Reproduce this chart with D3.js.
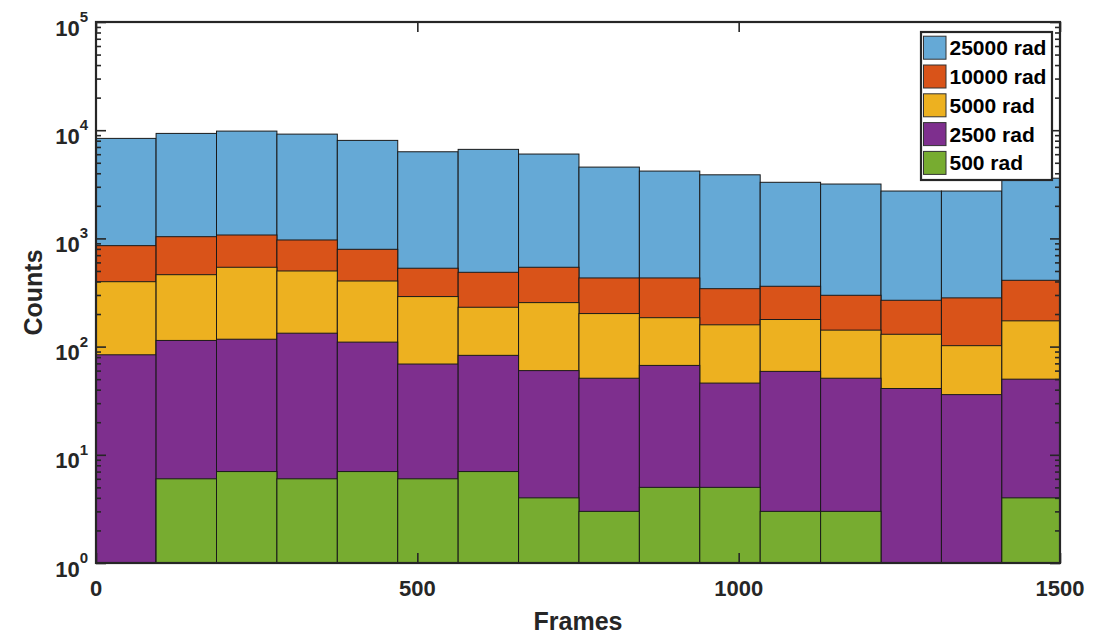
<!DOCTYPE html>
<html>
<head>
<meta charset="utf-8">
<script src="https://cdn.jsdelivr.net/npm/d3@7"></script>
<style>
  body { margin: 0; background: #fff; }
  text { font-family: "Liberation Sans", Arial, sans-serif; font-weight: bold; }
</style>
</head>
<body>
<svg id="chart" width="1107" height="634"></svg>
<script>
// bin edges (frames) of the 16 histogram bins
const binEdges = [-0.5, 93.5, 187.5, 281.5, 375.5, 469.5, 563.5, 657.5, 751.5,
                  845.5, 939.5, 1033.5, 1127.5, 1221.5, 1315.5, 1409.5, 1503.5];

// counts per bin
const counts25000 = [8400, 9340, 9810, 9200, 8050, 6320, 6650, 6020, 4560, 4190, 3870, 3300, 3180, 2740, 2740, 3600];
const counts10000 = [857, 1037, 1075, 967, 793, 530, 486, 541, 431, 431, 343, 361, 298, 268, 282, 410];
const counts5000  = [398, 462, 541, 500, 404, 290, 231, 255, 202, 185, 159, 178, 142, 130, 102, 173];
const counts2500  = [84, 114, 117, 133, 110, 69, 83, 60, 51, 67, 46, 59, 51, 41, 36, 50];
const counts500   = [0, 6, 7, 6, 7, 6, 7, 4, 3, 5, 5, 3, 3, 0, 0, 4];

const seriesNames = ["25000 rad", "10000 rad", "5000 rad", "2500 rad", "500 rad"];
const seriesCounts = [counts25000, counts10000, counts5000, counts2500, counts500];
const seriesColors = ["#65a9d6", "#d95319", "#edb120", "#7e2f8e", "#77ac30"];

const xTicks = [0, 500, 1000, 1500];
const yMajor = [1, 10, 100, 1000, 10000, 100000];
const yExponents = ["0", "1", "2", "3", "4", "5"];

const margin = { left: 96, top: 22, right: 47, bottom: 71 };
const width = 1107, height = 634;
const axisColor = "#262626";

const svg = d3.select("#chart");

const x = d3.scaleLinear().domain([0, 1500]).range([margin.left, width - margin.right]);
const y = d3.scaleLog().domain([1, 1e5]).range([height - margin.bottom, margin.top]);

// minor ticks for the log axis
const yMinor = [];
for (let d = 1; d < 1e5; d *= 10) {
  for (let k = 2; k <= 9; k++) yMinor.push(d * k);
}

svg.append("clipPath").attr("id", "plot-clip")
  .append("rect")
  .attr("x", x(0)).attr("y", y(1e5))
  .attr("width", x(1500) - x(0)).attr("height", y(1) - y(1e5));

const plot = svg.append("g").attr("clip-path", "url(#plot-clip)");

// overlaid histograms, largest first
seriesCounts.forEach((vals, s) => {
  plot.selectAll(null)
    .data(vals.map((v, i) => ({ v, x0: binEdges[i], x1: binEdges[i + 1] })).filter(d => d.v > 0))
    .enter()
    .append("rect")
    .attr("x", d => x(d.x0))
    .attr("width", d => x(d.x1) - x(d.x0))
    .attr("y", d => y(d.v))
    .attr("height", d => y(1) - y(d.v))
    .attr("fill", seriesColors[s])
    .attr("stroke", "#1a1a1a")
    .attr("stroke-width", 1);
});

// axes (ticks point inward, box on)
function styleAxis(g) {
  g.select(".domain").remove();
  g.selectAll(".tick line").attr("stroke", axisColor).attr("stroke-width", 1.6);
}

svg.append("g").attr("transform", `translate(0,${y(1)})`)
  .call(d3.axisBottom(x).tickValues(xTicks).tickSize(-10).tickFormat(""))
  .call(styleAxis);
svg.append("g").attr("transform", `translate(0,${y(1e5)})`)
  .call(d3.axisTop(x).tickValues(xTicks).tickSize(-10).tickFormat(""))
  .call(styleAxis);
svg.append("g").attr("transform", `translate(${x(0)},0)`)
  .call(d3.axisLeft(y).tickValues(yMajor).tickSize(-10).tickFormat(""))
  .call(styleAxis);
svg.append("g").attr("transform", `translate(${x(0)},0)`)
  .call(d3.axisLeft(y).tickValues(yMinor).tickSize(-5).tickFormat(""))
  .call(styleAxis);
svg.append("g").attr("transform", `translate(${x(1500)},0)`)
  .call(d3.axisRight(y).tickValues(yMajor).tickSize(-10).tickFormat(""))
  .call(styleAxis);
svg.append("g").attr("transform", `translate(${x(1500)},0)`)
  .call(d3.axisRight(y).tickValues(yMinor).tickSize(-5).tickFormat(""))
  .call(styleAxis);

// box
svg.append("rect")
  .attr("x", x(0)).attr("y", y(1e5))
  .attr("width", x(1500) - x(0)).attr("height", y(1) - y(1e5))
  .attr("fill", "none").attr("stroke", axisColor).attr("stroke-width", 2.2);

// x tick labels
svg.selectAll(null).data(xTicks).enter()
  .append("text")
  .attr("x", d => x(d)).attr("y", y(1) + 33)
  .attr("text-anchor", "middle")
  .attr("font-size", 22)
  .attr("fill", axisColor)
  .text(d => d);

// y tick labels 10^n
yMajor.forEach((v, i) => {
  const t = svg.append("text")
    .attr("x", x(0) - 8).attr("y", y(v) + 13.5)
    .attr("text-anchor", "end")
    .attr("font-size", 22)
    .attr("fill", axisColor);
  t.append("tspan").text("10");
  t.append("tspan").attr("font-size", 15).attr("dy", -13.5).text(yExponents[i]);
});

// axis labels
svg.append("text")
  .attr("x", (x(0) + x(1500)) / 2).attr("y", 630)
  .attr("text-anchor", "middle")
  .attr("font-size", 25)
  .attr("fill", axisColor)
  .text("Frames");

svg.append("text")
  .attr("transform", `translate(42,${(y(1) + y(1e5)) / 2}) rotate(-90)`)
  .attr("text-anchor", "middle")
  .attr("font-size", 25)
  .attr("fill", axisColor)
  .text("Counts");

// legend
const legend = svg.append("g");
legend.append("rect")
  .attr("x", 921).attr("y", 32)
  .attr("width", 131).attr("height", 148)
  .attr("fill", "#fff").attr("stroke", axisColor).attr("stroke-width", 2.2);

seriesNames.forEach((name, i) => {
  const cy = 47.7 + i * 28.8;
  legend.append("rect")
    .attr("x", 923.5).attr("y", cy - 11.5)
    .attr("width", 22.5).attr("height", 23)
    .attr("fill", seriesColors[i])
    .attr("stroke", "#333").attr("stroke-width", 1);
  legend.append("text")
    .attr("x", 949.5).attr("y", cy + 7.5)
    .attr("font-size", 21)
    .attr("fill", "#000")
    .text(name);
});
</script>
</body>
</html>
